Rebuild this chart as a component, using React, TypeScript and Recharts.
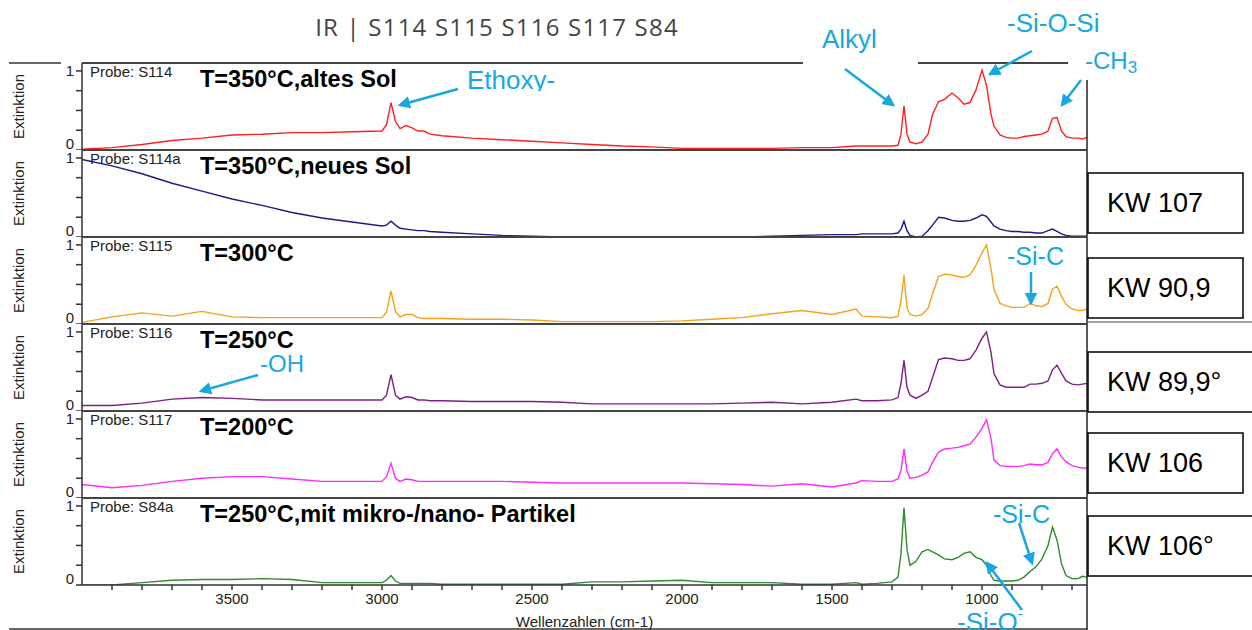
import React from "react";
import { LineChart, Line, XAxis, YAxis } from "recharts";

// wavenumber grid (cm-1) shared by all six spectra
const WAVENUMBERS = [
  4000, 3900, 3800, 3700, 3600, 3500, 3400, 3300, 3200, 3100,
  3000, 2985, 2970, 2955, 2940, 2920, 2900, 2880, 2860, 2840,
  2800, 2700, 2600, 2500, 2400, 2300, 2200, 2100, 2000, 1900,
  1800, 1700, 1600, 1500, 1420, 1400, 1350, 1300, 1280, 1270,
  1260, 1250, 1240, 1220, 1200, 1180, 1165, 1145, 1125, 1100,
  1080, 1060, 1040, 1020, 1000, 985, 970, 960, 940, 920,
  900, 880, 860, 840, 820, 800, 780, 765, 750, 735,
  720, 700, 680, 665, 650,
];

const S114 = [
  0.01, 0.03, 0.07, 0.12, 0.15, 0.19, 0.2, 0.22, 0.22, 0.23,
  0.24, 0.32, 0.6, 0.36, 0.27, 0.31, 0.28, 0.24, 0.24, 0.2,
  0.18, 0.15, 0.13, 0.11, 0.09, 0.07, 0.05, 0.04, 0.02, 0.02,
  0.02, 0.02, 0.03, 0.03, 0.05, 0.05, 0.05, 0.05, 0.06, 0.2,
  0.56, 0.2, 0.1, 0.08, 0.1, 0.2, 0.45, 0.61, 0.64, 0.72,
  0.66, 0.58, 0.6, 0.76, 1.01, 0.82, 0.45, 0.3, 0.19, 0.16,
  0.15, 0.15, 0.17, 0.18, 0.19, 0.2, 0.24, 0.4, 0.41, 0.24,
  0.17, 0.15, 0.15, 0.14, 0.16,
];

const S114A = [
  0.98, 0.9, 0.8, 0.68, 0.58, 0.48, 0.4, 0.31, 0.24, 0.19,
  0.14, 0.15, 0.2, 0.15, 0.11, 0.1, 0.09, 0.08, 0.08, 0.07,
  0.06, 0.04, 0.02, 0.01, 0.0, 0.0, 0.0, 0.0, 0.0, 0.0,
  0.0, 0.01, 0.02, 0.03, 0.03, 0.04, 0.04, 0.04, 0.05, 0.1,
  0.2, 0.08, 0.02, 0.0, 0.01, 0.08, 0.15, 0.25, 0.24, 0.21,
  0.2, 0.2, 0.21, 0.24, 0.28, 0.26, 0.19, 0.14, 0.1, 0.08,
  0.07, 0.07, 0.06, 0.06, 0.05, 0.05, 0.08, 0.1, 0.07, 0.04,
  0.02, 0.01, 0.01, 0.01, 0.01,
];

const S115 = [
  0.02, 0.09, 0.14, 0.1, 0.16, 0.09, 0.08, 0.08, 0.08, 0.08,
  0.08, 0.15, 0.42, 0.16, 0.09, 0.12, 0.12, 0.08, 0.07, 0.07,
  0.07, 0.06, 0.06, 0.05, 0.03, 0.03, 0.03, 0.03, 0.04, 0.06,
  0.08, 0.13, 0.17, 0.12, 0.19, 0.1, 0.09, 0.08, 0.1, 0.3,
  0.62, 0.2, 0.12, 0.1, 0.12, 0.2, 0.38, 0.6, 0.63, 0.62,
  0.6, 0.59, 0.62, 0.74, 0.9, 1.0, 0.7, 0.44, 0.26, 0.23,
  0.21, 0.21, 0.21, 0.26, 0.23, 0.22, 0.26, 0.44, 0.48, 0.35,
  0.25, 0.19, 0.17, 0.17, 0.19,
];

const S116 = [
  0.07, 0.07, 0.1, 0.15, 0.17, 0.16, 0.14, 0.14, 0.14, 0.14,
  0.14, 0.2, 0.46, 0.2, 0.15, 0.18, 0.17, 0.14, 0.14, 0.13,
  0.13, 0.12, 0.12, 0.12, 0.11, 0.09, 0.09, 0.09, 0.09, 0.09,
  0.1, 0.11, 0.09, 0.11, 0.15, 0.13, 0.13, 0.14, 0.17, 0.35,
  0.64, 0.3, 0.2, 0.16, 0.2, 0.25, 0.42, 0.65, 0.67, 0.66,
  0.64, 0.64, 0.66, 0.77, 0.92, 1.0, 0.74, 0.47, 0.33, 0.3,
  0.3, 0.3, 0.3, 0.34, 0.34, 0.35, 0.38, 0.52, 0.58, 0.48,
  0.38, 0.34, 0.33, 0.34, 0.35,
];

const S117 = [
  0.17, 0.13, 0.16, 0.21, 0.25, 0.27, 0.27, 0.24, 0.21, 0.21,
  0.21, 0.27, 0.44, 0.25, 0.21, 0.24, 0.23, 0.21, 0.21, 0.21,
  0.21, 0.21, 0.21, 0.2, 0.19, 0.19, 0.19, 0.19, 0.19, 0.18,
  0.17, 0.15, 0.18, 0.14, 0.19, 0.22, 0.21, 0.21, 0.24, 0.35,
  0.62, 0.34, 0.25, 0.26, 0.29, 0.33, 0.45, 0.58, 0.62, 0.63,
  0.64, 0.66, 0.68, 0.77, 0.88, 0.99, 0.75, 0.48, 0.41, 0.4,
  0.4, 0.4, 0.41, 0.43, 0.42, 0.42, 0.45, 0.56, 0.62, 0.52,
  0.46, 0.41, 0.39, 0.38, 0.38,
];

const S84A = [
  0.0, 0.0, 0.03, 0.06, 0.07, 0.07, 0.08, 0.07, 0.03, 0.03,
  0.03, 0.06, 0.12, 0.05, 0.02, 0.02, 0.02, 0.02, 0.02, 0.02,
  0.01, 0.01, 0.01, 0.01, 0.01, 0.04, 0.04, 0.05, 0.06, 0.03,
  0.03, 0.03, 0.01, 0.01, 0.03, 0.01, 0.02, 0.04, 0.1, 0.4,
  0.98, 0.45, 0.25, 0.3, 0.42, 0.45, 0.42, 0.38, 0.33, 0.32,
  0.35, 0.4, 0.42, 0.35, 0.32, 0.25, 0.12, 0.06, 0.05, 0.05,
  0.05, 0.06, 0.1, 0.17, 0.23, 0.33, 0.5, 0.73, 0.57, 0.27,
  0.12, 0.08, 0.08, 0.11, 0.1,
];

const PROBES = ["Probe: S114", "Probe: S114a", "Probe: S115", "Probe: S116", "Probe: S117", "Probe: S84a"];
const TITLES = [
  "T=350°C,altes Sol",
  "T=350°C,neues Sol",
  "T=300°C",
  "T=250°C",
  "T=200°C",
  "T=250°C,mit mikro-/nano- Partikel",
];
const COLORS = ["#ff1f1f", "#1a1a8a", "#f4a11e", "#7d1e87", "#ff2bff", "#2e8b2e"];
const SERIES = [S114, S114A, S115, S116, S117, S84A];

const KW_LABELS = ["KW 107", "KW 90,9", "KW 89,9°", "KW 106", "KW 106°"];

const X_TICKS = [3900, 3800, 3700, 3600, 3500, 3400, 3300, 3200, 3100, 3000, 2900, 2800, 2700, 2600, 2500, 2400, 2300, 2200, 2100, 2000, 1900, 1800, 1700, 1600, 1500, 1400, 1300, 1200, 1100, 1000, 900, 800, 700];
const X_LABELS = [3500, 3000, 2500, 2000, 1500, 1000];
const Y_TICKS = [0, 0.25, 0.5, 0.75, 1];

const FONT = "'Liberation Sans', Arial, sans-serif";
const BLUE = "#17a8e0";
const PANEL_TOP = 63;
const PANEL_H = 87;
const AXIS_W = 82;
const CHART_W = 1090;

const YTick = (props: any) => {
  const { x, y, payload } = props;
  const v = payload?.value;
  if (v !== 0 && v !== 1) return <g />;
  return (
    <text x={x} y={y + (v === 0 ? -7 : 0)} textAnchor="end" dominantBaseline="central" fontSize={15} fill="#222" fontFamily={FONT}>
      {v}
    </text>
  );
};

function Panel({ index }: { index: number }) {
  const last = index === SERIES.length - 1;
  const rows = WAVENUMBERS.map((wn, i) => ({ wn, v: SERIES[index][i] }));
  const height = last ? PANEL_H + 45 : PANEL_H;
  return (
    <div style={{ position: "absolute", left: 0, top: PANEL_TOP + index * PANEL_H }}>
      <LineChart width={CHART_W} height={height} data={rows} margin={{ top: 0, right: 3, bottom: 0, left: 0 }}>
        <XAxis
          type="number"
          dataKey="wn"
          domain={[650, 4000]}
          reversed
          allowDataOverflow
          hide={!last}
          ticks={X_TICKS}
          interval={0}
          tickSize={5}
          tickMargin={3}
          height={45}
          stroke="#333"
          strokeWidth={1.5}
          tick={{ fontSize: 15, fill: "#222", fontFamily: FONT }}
          tickFormatter={(v: number) => (X_LABELS.includes(v) ? String(v) : "")}
          label={{ value: "Wellenzahlen (cm-1)", position: "insideBottom", offset: 3, fontSize: 15, fill: "#222", fontFamily: FONT }}
        />
        <YAxis
          type="number"
          domain={[0, 1.1]}
          ticks={Y_TICKS}
          interval={0}
          width={AXIS_W}
          tickSize={6}
          tickMargin={2}
          stroke="#333"
          strokeWidth={1.5}
          tick={<YTick />}
          allowDataOverflow
        />
        <Line type="linear" dataKey="v" stroke={COLORS[index]} strokeWidth={1.4} dot={false} isAnimationActive={false} />
      </LineChart>
    </div>
  );
}

function Arrow({ x1, y1, x2, y2 }: { x1: number; y1: number; x2: number; y2: number }) {
  return <line x1={x1} y1={y1} x2={x2} y2={y2} stroke={BLUE} strokeWidth={2.5} markerEnd="url(#arrowHead)" />;
}

export default function App() {
  const tops = SERIES.map((_, i) => PANEL_TOP + i * PANEL_H);
  const kwBoxes = [
    { y: 173, w: 155 },
    { y: 258, w: 155 },
    { y: 352, w: 170 },
    { y: 433, w: 155 },
    { y: 516, w: 170 },
  ];
  return (
    <div style={{ position: "absolute", left: 0, top: 0, width: 1252, height: 630, background: "#fff", overflow: "hidden" }}>
      {SERIES.map((_, i) => (
        <Panel key={i} index={i} />
      ))}
      <svg width={1252} height={630} style={{ position: "absolute", left: 0, top: 0, pointerEvents: "none" }} fontFamily={FONT}>
        <defs>
          <marker id="arrowHead" viewBox="0 0 10 10" refX="8" refY="5" markerWidth="5" markerHeight="5" orient="auto">
            <path d="M0,0 L10,5 L0,10 z" fill={BLUE} />
          </marker>
          <clipPath id="ethoxyClip">
            <rect x={455} y={50} width={130} height={41} />
          </clipPath>
        </defs>

        <text x={497} y={36} textAnchor="middle" fontSize={24} letterSpacing={1.2} fill="#444" fontFamily="'Open Sans', sans-serif">
          IR | S114 S115 S116 S117 S84
        </text>

        {/* frame */}
        <line x1={9} y1={63} x2={61} y2={63} stroke="#333" strokeWidth={1.5} />
        <line x1={9} y1={629} x2={1087} y2={629} stroke="#333" strokeWidth={1.5} />
        <line x1={1087} y1={63} x2={1087} y2={630} stroke="#222" strokeWidth={1.5} />
        {tops.map((t, i) => (
          <line key={i} x1={82} y1={t} x2={1087} y2={t} stroke="#444" strokeWidth={2} />
        ))}
        <line x1={1087} y1={322} x2={1252} y2={322} stroke="#444" strokeWidth={1.2} />

        {tops.map((t, i) => (
          <g key={i}>
            <text x={18} y={t + PANEL_H / 2} transform={`rotate(-90 18 ${t + PANEL_H / 2})`} textAnchor="middle" dominantBaseline="central" fontSize={15} fill="#222">
              Extinktion
            </text>
            <text x={90} y={t + 14} fontSize={15} fill="#222">
              {PROBES[i]}
            </text>
            <text x={200} y={t + 24} fontSize={23.5} fontWeight="bold" fill="#000">
              {TITLES[i]}
            </text>
          </g>
        ))}

        {/* label boxes covering the frame */}
        <rect x={803} y={15} width={115} height={51} fill="#fff" />
        <rect x={1068} y={40} width={90} height={40} fill="#fff" />

        <text x={822} y={48} fontSize={26} fill={BLUE}>Alkyl</text>
        <Arrow x1={845} y1={69} x2={893} y2={105} />

        <text x={1007} y={32} fontSize={26} fill={BLUE}>-Si-O-Si</text>
        <Arrow x1={1032} y1={51} x2={990} y2={74} />

        <text x={1085} y={69} fontSize={24} fill={BLUE}>
          -CH<tspan fontSize={17} dy={4}>3</tspan>
        </text>
        <Arrow x1={1081} y1={80} x2={1062} y2={105} />

        <text x={467} y={89} fontSize={26} fill={BLUE} clipPath="url(#ethoxyClip)">Ethoxy-</text>
        <Arrow x1={458} y1={89} x2={400} y2={105} />

        <text x={1007} y={265} fontSize={25} fill={BLUE}>-Si-C</text>
        <Arrow x1={1031} y1={272} x2={1031} y2={303} />

        <text x={260} y={372} fontSize={24} fill={BLUE}>-OH</text>
        <Arrow x1={258} y1={375} x2={201} y2={391} />

        <text x={993} y={523} fontSize={25} fill={BLUE}>-Si-C</text>
        <Arrow x1={1019} y1={523} x2={1032} y2={563} />

        <text x={957} y={631} fontSize={26} fill={BLUE}>
          -Si-O<tspan fontSize={16} dy={-12}>-</tspan>
        </text>
        <Arrow x1={1022} y1={610} x2={987} y2={563} />

        {kwBoxes.map((b, i) => (
          <g key={i}>
            <rect x={1088} y={b.y} width={b.w} height={60} fill="#fff" stroke="#000" strokeWidth={1.5} />
            <text x={1107} y={b.y + 30} dominantBaseline="central" fontSize={27} fill="#000">
              {KW_LABELS[i]}
            </text>
          </g>
        ))}
      </svg>
    </div>
  );
}
